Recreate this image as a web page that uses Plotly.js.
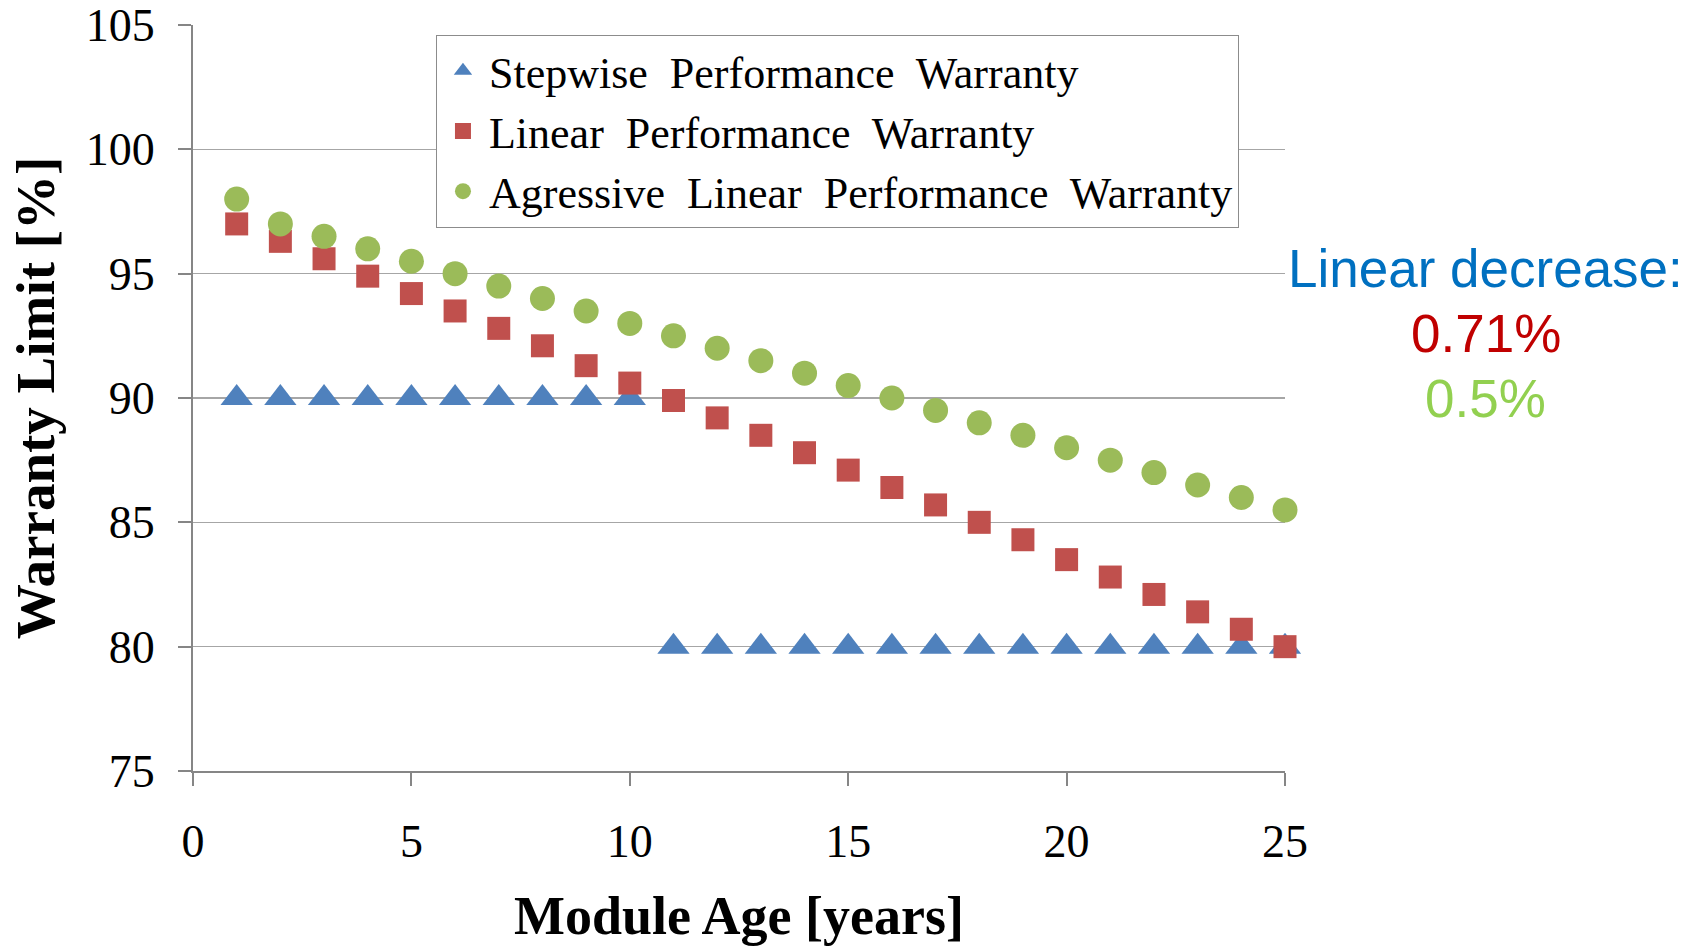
<!DOCTYPE html>
<html>
<head>
<meta charset="utf-8">
<script src="https://cdn.plot.ly/plotly-3.0.1.min.js"></script>
<style>html,body{margin:0;padding:0;background:#fff;}#chart{width:1695px;height:946px;}</style>
</head>
<body>
<div id="chart"></div>
<script>
const years = [1,2,3,4,5,6,7,8,9,10,11,12,13,14,15,16,17,18,19,20,21,22,23,24,25];
const stepwise = [90,90,90,90,90,90,90,90,90,90,80,80,80,80,80,80,80,80,80,80,80,80,80,80,80];
const linear = [97.0,96.3,95.6,94.9,94.2,93.5,92.8,92.1,91.3,90.6,89.9,89.2,88.5,87.8,87.1,86.4,85.7,85.0,84.3,83.5,82.8,82.1,81.4,80.7,80.0];
const aggressive = [98.0,97.0,96.5,96.0,95.5,95.0,94.5,94.0,93.5,93.0,92.5,92.0,91.5,91.0,90.5,90.0,89.5,89.0,88.5,88.0,87.5,87.0,86.5,86.0,85.5];
const seriesNames = ["Stepwise  Performance  Warranty","Linear  Performance  Warranty","Agressive  Linear  Performance  Warranty"];
const xTicks = [0,5,10,15,20,25];
const yTicks = [75,80,85,90,95,100,105];
const noteLines = ["Linear decrease:","0.71%","0.5%"];

const serif = "'Times New Roman', 'Liberation Serif', serif";
const gap = s => s.replace(/  /g, '\u00a0 ');
const traces = [
  {x: years, y: stepwise, name: gap(seriesNames[0]), mode: 'markers', type: 'scatter', cliponaxis: false,
   marker: {symbol: 'triangle-up', size: 28, color: '#4F81BD'}},
  {x: years, y: linear, name: gap(seriesNames[1]), mode: 'markers', type: 'scatter', cliponaxis: false,
   marker: {symbol: 'square', size: 23, color: '#C0504D'}},
  {x: years, y: aggressive, name: gap(seriesNames[2]), mode: 'markers', type: 'scatter', cliponaxis: false,
   marker: {symbol: 'circle', size: 25, color: '#9BBB59'}}
];
const layout = {
  width: 1695, height: 946,
  margin: {l: 193, r: 410, t: 25, b: 175},
  paper_bgcolor: '#fff', plot_bgcolor: '#fff',
  showlegend: true,
  legend: {x: 0.2225, y: 0.987, xanchor: 'left', yanchor: 'top',
    bordercolor: '#8c8c8c', borderwidth: 1, bgcolor: '#fff', itemwidth: 42,
    font: {family: serif, size: 44, color: '#000'}, tracegroupgap: 0},
  xaxis: {range: [0, 25], tickvals: xTicks, ticktext: xTicks.map(String),
    showgrid: false, zeroline: false, showline: true, linecolor: '#868686', linewidth: 2,
    ticks: 'outside', ticklen: 13, tickcolor: '#868686', tickwidth: 2,
    ticklabelstandoff: 16,
    tickfont: {family: serif, size: 46, color: '#000'},
    title: {text: '<b>Module Age [years]</b>', font: {family: serif, size: 54, color: '#000'}, standoff: 31}},
  yaxis: {range: [75, 105], tickvals: yTicks, ticktext: yTicks.map(String),
    showgrid: true, gridcolor: '#a6a6a6', gridwidth: 1.5, zeroline: false,
    showline: true, linecolor: '#868686', linewidth: 2,
    ticks: 'outside', ticklen: 13, tickcolor: '#868686', tickwidth: 2,
    ticklabelstandoff: 14,
    tickfont: {family: serif, size: 46, color: '#000'},
    title: {text: '<b>Warranty Limit [%]</b>', font: {family: serif, size: 55, color: '#000'}, standoff: 14}},
  annotations: [
    {xref: 'paper', yref: 'paper', x: 1.184, y: 0.674, text: noteLines[0], showarrow: false,
     xanchor: 'center', yanchor: 'middle', font: {family: "Arial, 'Liberation Sans', sans-serif", size: 53, color: '#0070C0'}},
    {xref: 'paper', yref: 'paper', x: 1.184, y: 0.587, text: noteLines[1], showarrow: false,
     xanchor: 'center', yanchor: 'middle', font: {family: "Arial, 'Liberation Sans', sans-serif", size: 53, color: '#C00000'}},
    {xref: 'paper', yref: 'paper', x: 1.184, y: 0.5, text: noteLines[2], showarrow: false,
     xanchor: 'center', yanchor: 'middle', font: {family: "Arial, 'Liberation Sans', sans-serif", size: 53, color: '#92D050'}}
  ]
};
Plotly.newPlot('chart', traces, layout, {displayModeBar: false, staticPlot: true});
</script>
</body>
</html>
